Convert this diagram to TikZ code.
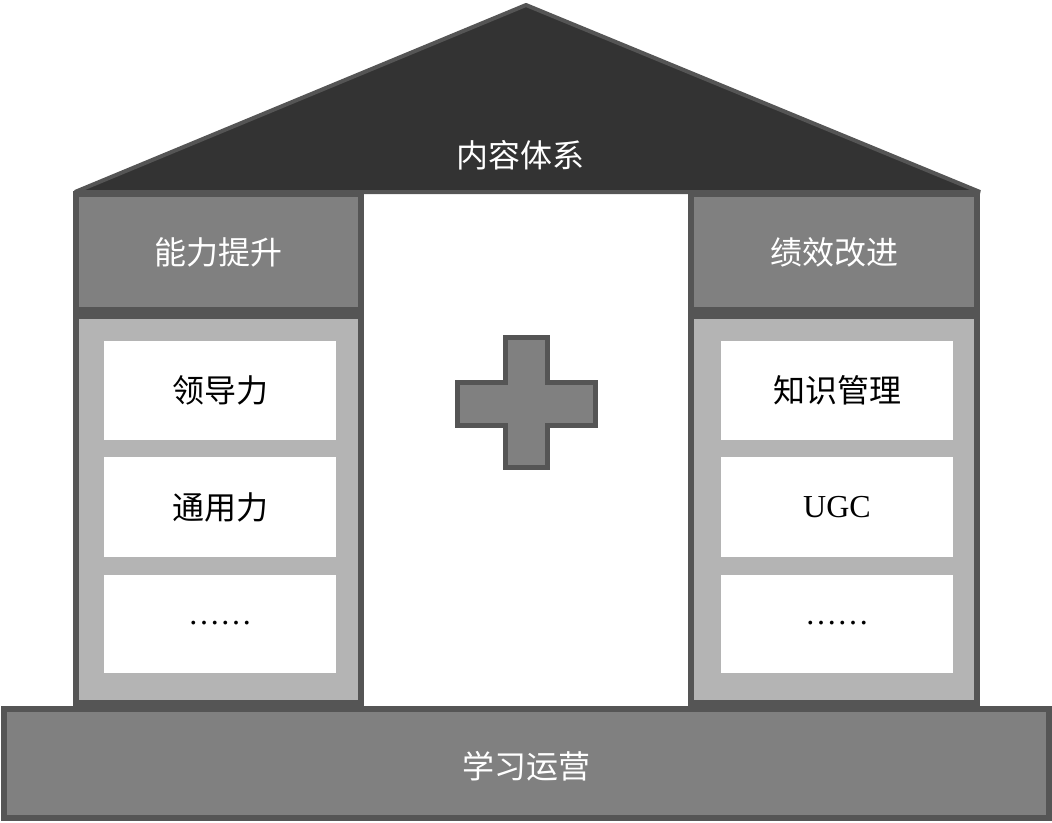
\documentclass[tikz,border=0pt]{standalone}
\usepackage{fontspec}
\newfontfamily\cjk{Noto Sans CJK SC}
\newfontfamily\latinserif{Liberation Serif}
\definecolor{roofc}{HTML}{333333}
\definecolor{edgec}{HTML}{555555}
\definecolor{midc}{HTML}{808080}
\definecolor{lightc}{HTML}{B4B4B4}
\tikzset{
  frame/.style={draw=edgec, line width=6pt, rectangle, inner sep=0pt, outer sep=0pt},
  header/.style={frame, fill=midc, text=white, font=\cjk\fontsize{32}{32}\selectfont},
  lower/.style={frame, fill=lightc},
  item/.style={rectangle, fill=white, inner sep=0pt, outer sep=0pt, minimum width=232pt, text=black, font=\cjk\fontsize{32}{32}\selectfont},
  labeltext/.style={text=white, font=\cjk\fontsize{32}{32}\selectfont, inner sep=0pt},
}
\begin{document}
\begin{tikzpicture}[x=1pt,y=-1pt]
\useasboundingbox (0,0) rectangle (1052,822);
% roof
\path[fill=roofc, draw=edgec, line width=4pt, line join=bevel]
  (526,5) -- (980,192) -- (75,192) -- cycle;
\node[labeltext] (roof) at (520,155) {内容体系};
% left column
\node[header, minimum width=285pt, minimum height=116pt] (hdrL) at (218.5,252) {能力提升};
\node[lower, minimum width=285pt, minimum height=387pt] (lowL) at (218.5,509.5) {};
\node[item, minimum height=99pt] (l1) at (220,390.5) {领导力};
\node[item, minimum height=100pt] (l2) at (220,507) {通用力};
\node[item, minimum height=98pt, font=\latinserif\fontsize{32}{32}\selectfont] (l3) at (220,624) {\raisebox{0.2ex}{……}};
% right column
\node[header, minimum width=286pt, minimum height=116pt] (hdrR) at (834,252) {绩效改进};
\node[lower, minimum width=286pt, minimum height=387pt] (lowR) at (834,509.5) {};
\node[item, minimum height=99pt] (r1) at (837,390.5) {知识管理};
\node[item, minimum height=100pt, font=\latinserif\fontsize{32}{32}\selectfont] (r2) at (837,507) {UGC};
\node[item, minimum height=98pt, font=\latinserif\fontsize{32}{32}\selectfont] (r3) at (837,624) {\raisebox{0.2ex}{……}};
% cross
\path[fill=midc, draw=edgec, line width=5pt, line join=miter]
  (505.5,337.5) -- (547.5,337.5) -- (547.5,382.5) -- (595.5,382.5) -- (595.5,425.5)
  -- (547.5,425.5) -- (547.5,467.5) -- (505.5,467.5) -- (505.5,425.5) -- (457.5,425.5)
  -- (457.5,382.5) -- (505.5,382.5) -- cycle;
% base
\path[fill=midc, draw=edgec, line width=6pt] (4,709) rectangle (1049,818);
\node[labeltext] (base) at (526.5,766) {学习运营};
\end{tikzpicture}
\end{document}
